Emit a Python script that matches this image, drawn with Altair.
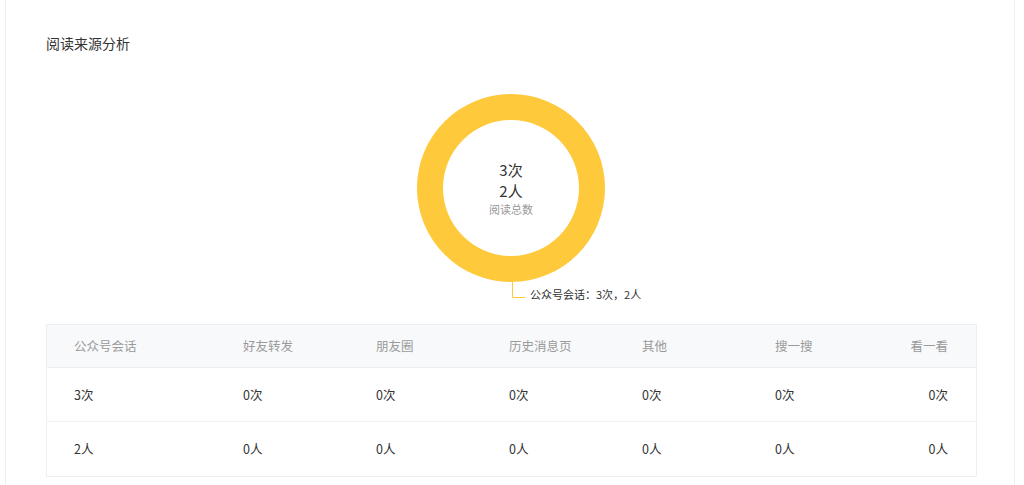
import altair as alt
import pandas as pd

# ---- data ----
title_text = "阅读来源分析"
sources = ["公众号会话", "好友转发", "朋友圈", "历史消息页", "其他", "搜一搜", "看一看"]
reads = [3, 0, 0, 0, 0, 0, 0]
users = [2, 0, 0, 0, 0, 0, 0]
center_caption = "阅读总数"

FONT = "Noto Sans CJK SC"
YELLOW = "#FEC93A"
slice_colors = [YELLOW, "#5B8FF9", "#5AD8A6", "#5D7092", "#F6BD16", "#E8684A", "#6DC8EC"]

donut_df = pd.DataFrame({"source": sources, "reads": reads, "users": users})

rows = []
for i, s in enumerate(sources):
    rows.append({"col": i, "row": 0, "text": s})
    rows.append({"col": i, "row": 1, "text": f"{reads[i]}次"})
    rows.append({"col": i, "row": 2, "text": f"{users[i]}人"})
table_df = pd.DataFrame(rows)

total_reads = sum(reads)
total_users = sum(users)
center_df = pd.DataFrame({"line": [0, 1, 2],
                          "text": [f"{total_reads}次", f"{total_users}人", center_caption]})
top = donut_df[donut_df["reads"] > 0]
label_df = pd.DataFrame({"text": [f"{s}：{r}次，{u}人" for s, r, u in zip(top["source"], top["reads"], top["users"])]})
title_df = pd.DataFrame({"text": [title_text]})

one = pd.DataFrame({"k": [0]})

# ---- card & table frame ----
card = alt.Chart(one).mark_rect(fill="white", stroke="#EEEFF2", strokeWidth=1).encode(
    x=alt.value(5.5), x2=alt.value(1014.5), y=alt.value(-10), y2=alt.value(500))

title = alt.Chart(title_df).mark_text(align="left", baseline="middle", font=FONT,
                                      fontSize=14, color="#333333").encode(
    x=alt.value(46), y=alt.value(45), text="text:N")

header_bg = alt.Chart(one).mark_rect(fill="#F8F9FB").encode(
    x=alt.value(46.5), x2=alt.value(976.5), y=alt.value(324.5), y2=alt.value(367.5))
table_border = alt.Chart(one).mark_rect(fill=None, stroke="#EBEEF2", strokeWidth=1).encode(
    x=alt.value(46.5), x2=alt.value(976.5), y=alt.value(324.5), y2=alt.value(476.5))
line1 = alt.Chart(one).mark_rule(color="#EBEEF2").encode(
    x=alt.value(46.5), x2=alt.value(976.5), y=alt.value(367.5))
line2 = alt.Chart(one).mark_rule(color="#F0F2F5").encode(
    x=alt.value(46.5), x2=alt.value(976.5), y=alt.value(421.5))

# ---- donut ----
donut = alt.Chart(donut_df).mark_arc(innerRadius=68, outerRadius=94).encode(
    theta=alt.Theta("reads:Q"),
    color=alt.Color("source:N", scale=alt.Scale(domain=sources, range=slice_colors), legend=None),
    x=alt.value(511), y=alt.value(188))

center_big = alt.Chart(center_df[center_df["line"] < 2]).mark_text(
    font=FONT, fontSize=15, color="#333333", baseline="middle", align="center").encode(
    x=alt.value(511),
    y=alt.Y("line:Q", scale=alt.Scale(domain=[0, 1], range=[171, 192]), axis=None),
    text="text:N")
center_small = alt.Chart(center_df[center_df["line"] == 2]).mark_text(
    font=FONT, fontSize=11, color="#999999", baseline="middle", align="center").encode(
    x=alt.value(511), y=alt.value(211), text="text:N")

lead_v = alt.Chart(one).mark_rule(color=YELLOW, strokeWidth=1).encode(
    x=alt.value(512.5), y=alt.value(282), y2=alt.value(297.5))
lead_h = alt.Chart(one).mark_rule(color=YELLOW, strokeWidth=1).encode(
    x=alt.value(512.5), x2=alt.value(525), y=alt.value(297.5))
label = alt.Chart(label_df).mark_text(font=FONT, fontSize=11, color="#333333",
                                      align="left", baseline="middle").encode(
    x=alt.value(530), y=alt.value(296), text="text:N")

# ---- table text ----
xscale = alt.Scale(domain=[0, 1, 5, 6], range=[74, 243, 775, 948])
yscale = alt.Scale(domain=[0, 1, 2], range=[347, 396, 450])
txt_color = alt.condition("datum.row == 0", alt.value("#9A9A9A"), alt.value("#333333"))

cells_left = alt.Chart(table_df).transform_filter("datum.col < 6").mark_text(
    font=FONT, fontSize=12.5, align="left", baseline="middle").encode(
    x=alt.X("col:Q", scale=xscale, axis=None),
    y=alt.Y("row:Q", scale=yscale, axis=None),
    text="text:N", color=txt_color)
cells_right = alt.Chart(table_df).transform_filter("datum.col == 6").mark_text(
    font=FONT, fontSize=12.5, align="right", baseline="middle").encode(
    x=alt.X("col:Q", scale=xscale, axis=None),
    y=alt.Y("row:Q", scale=yscale, axis=None),
    text="text:N", color=txt_color)

chart = alt.layer(
    card, title, header_bg, table_border, line1, line2,
    donut, center_big, center_small, lead_v, lead_h, label,
    cells_left, cells_right
).resolve_scale(y="independent").properties(
    width=1024, height=485, padding=0, autosize=alt.AutoSizeParams(type="none"),
    background="white"
).configure_view(stroke=None)

chart.save("out.html", embed_options={"renderer": "svg", "actions": False})
